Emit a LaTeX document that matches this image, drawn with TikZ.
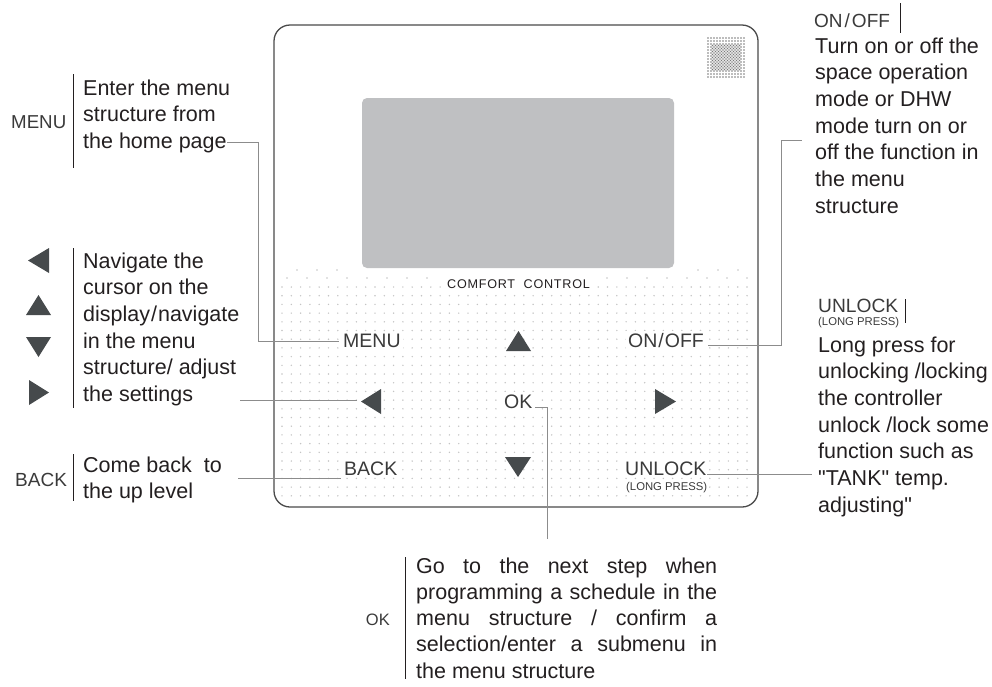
\documentclass[tikz,border=0pt]{standalone}
\usepackage{fontspec}
\setmainfont{Liberation Sans}
\newfontfamily\descfont{Liberation Sans}
\newfontfamily\comfortfont[LetterSpace=6]{Liberation Sans}
\definecolor{txt}{HTML}{231F20}
\definecolor{btn}{HTML}{3A3A3A}
\definecolor{tri}{HTML}{464A4C}
\definecolor{conn}{HTML}{8C8C8C}
\definecolor{dotc}{HTML}{C4C4C4}
\definecolor{grill}{HTML}{7A7A7A}
\definecolor{lcd}{HTML}{BFC0C2}
\definecolor{frame}{HTML}{4A4A4A}
\newcommand\tlines[1]{\vtop{\baselineskip=26.7pt\lineskiplimit=-100pt\halign{##\hfil\cr#1\crcr}}}
\newcommand\jline[1]{\hbox to 301pt{#1}}
\tikzset{
  desc/.style={font=\descfont\fontsize{21.5}{26.7}\selectfont, text=txt, inner sep=0pt, anchor=base west},
  lab/.style={font=\fontsize{18.7}{20}\selectfont, text=btn, inner sep=0pt, anchor=base west},
  blab/.style={font=\fontsize{19.5}{21}\selectfont, text=btn, fill=white, inner sep=2pt, anchor=base west},
  small/.style={font=\fontsize{11.3}{12}\selectfont, text=btn, inner sep=0pt, anchor=base west},
  bar/.style={draw=txt, line width=1pt},
  connector/.style={draw=conn, line width=1pt},
  trifill/.style={fill=tri},
}
\begin{document}
\begin{tikzpicture}[x=1pt,y=-1pt]
\useasboundingbox (0,0) rectangle (992,686);

% ---------- device ----------
\foreach \k in {0,...,24}{\foreach \j in {0,...,50}{\fill[dotc] ({282+9.3*\j},{287+8.7*\k}) circle[radius=0.8pt];}}
\foreach \x in {297,317,337,698,718,738}{\fill[dotc] (\x,270) circle[radius=0.8pt];}
\foreach \i in {0,...,23}{\fill[dotc] ({287+20*\i},278) circle[radius=0.8pt];}
\draw[frame, line width=1.3pt, rounded corners=16pt] (274,25) rectangle (758,507);
\fill[lcd, rounded corners=5pt] (362,98) rectangle (674,268);
% speaker grille
\foreach \i in {0,...,12}{\foreach \j in {0,...,13}{\fill[grill] ({708+3*\i},{38+3*\j}) circle[radius=0.85pt];}}
\foreach \i in {1,...,10}{\foreach \j in {2,...,10}{\fill[grill] ({709.5+3*\i},{39.5+3*\j}) circle[radius=0.85pt];}}

\node[font=\comfortfont\fontsize{12.6}{13}\selectfont, text=txt, fill=white, inner sep=2pt, anchor=base west] (comfort) at (445,288) {COMFORT\ \ CONTROL};

\node[blab] (bmenu) at (341,347) {MENU};
\node[blab] (bonoff) at (626,347) {ON\kern1pt/\kern1pt OFF};
\node[blab] (bok) at (502,408) {OK};
\node[blab] (bback) at (342,475) {BACK};
\node[blab] (bunlock) at (623,475) {UNLOCK};
\node[small, fill=white, inner sep=1pt] (blong) at (625,490) {(LONG PRESS)};

\fill[trifill] (506,351) -- (531,351) -- (518.5,331) -- cycle;
\fill[trifill] (361,401.5) -- (381,389) -- (381,414) -- cycle;
\fill[trifill] (676,401.5) -- (655,389) -- (655,414) -- cycle;
\fill[trifill] (505,457) -- (531,457) -- (518,477) -- cycle;

% ---------- left descriptions ----------
\node[lab] (lmenu) at (11,128) {MENU};
\draw[bar] (73,74) -- (73,168);
\node[desc] (tmenu) at (83,95) {\tlines{Enter the menu\cr structure from\cr the home page}};

\fill[trifill] (28,260.5) -- (49,248) -- (49,273) -- cycle;
\fill[trifill] (26,315) -- (51,315) -- (38.5,295) -- cycle;
\fill[trifill] (26,337) -- (51,337) -- (38.5,357) -- cycle;
\fill[trifill] (49,392.5) -- (29,380) -- (29,405) -- cycle;
\draw[bar] (73,248) -- (73,408);
\node[desc] (tarrows) at (83,268) {\tlines{Navigate the\cr cursor on the\cr display\kern1pt/\kern1pt navigate\cr in the menu\cr structure/ adjust\cr the settings}};

\node[lab, font=\fontsize{19}{20}\selectfont] (lback) at (15,486) {BACK};
\draw[bar] (73,454) -- (73,501);
\node[desc] (tback) at (83,472) {\tlines{Come back\ \ to\cr the up level}};

% ---------- right descriptions ----------
\node[lab, font=\fontsize{19}{20}\selectfont] (lonoff) at (814,27) {ON\kern2pt/\kern2pt OFF};
\draw[bar] (900,3) -- (900,33);
\node[desc] (tonoff) at (815,53) {\tlines{Turn on or off the\cr space operation\cr mode or DHW\cr mode turn on or\cr off the function in\cr the menu\cr structure}};

\node[lab, font=\fontsize{19.2}{20}\selectfont] (lunlock) at (818,312) {UNLOCK};
\node[small] (llong) at (818,325) {(LONG PRESS)};
\draw[bar] (905,299) -- (905,323);
\node[desc] (tunlock) at (818,352) {\tlines{Long press for\cr unlocking /locking\cr the controller\cr unlock /lock some\cr function such as\cr "TANK" temp.\cr adjusting"}};

% ---------- bottom description ----------
\node[lab, font=\fontsize{16.5}{18}\selectfont, anchor=base east] (lok) at (390,625) {OK};
\draw[bar] (405,557) -- (405,679);
\node[desc] (tok) at (416,573) {\vtop{\baselineskip=26.3pt\lineskiplimit=-100pt
  \jline{Go to the next step when}
  \jline{programming a schedule in the}
  \jline{menu structure / confirm a}
  \jline{selection/enter a submenu in}
  \hbox{the menu structure}}};

% ---------- connectors ----------
\coordinate (cmenuA) at (227,142);
\coordinate (cmenuB) at (339,341.7);
\draw[connector] (cmenuA) -- (258,142) |- (cmenuB);
\coordinate (carrA) at (240,400);
\coordinate (carrB) at (357,400);
\draw[connector] (carrA) -- (carrB);
\coordinate (cbackA) at (238,478);
\coordinate (cbackB) at (341,478);
\draw[connector] (cbackA) -- (cbackB);
\coordinate (cokA) at (535,407);
\coordinate (cokB) at (547.5,539);
\draw[connector] (cokA) -| (cokB);
\coordinate (conA) at (708,345);
\coordinate (conB) at (802,140);
\draw[connector] (conA) -- (781,345) |- (conB);
\coordinate (cunA) at (707,474);
\coordinate (cunB) at (812,474);
\draw[connector] (cunA) -- (cunB);
\end{tikzpicture}
\end{document}
